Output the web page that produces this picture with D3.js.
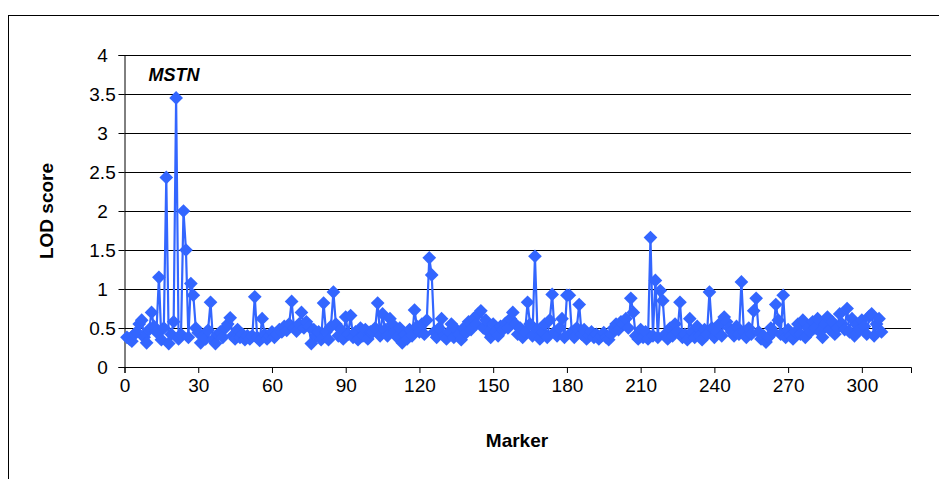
<!DOCTYPE html>
<html>
<head>
<meta charset="utf-8">
<script src="https://cdn.jsdelivr.net/npm/d3@7"></script>
<style>
  html, body { margin: 0; padding: 0; background: #fff; }
  svg { display: block; font-family: "Liberation Sans", Arial, sans-serif; }
</style>
</head>
<body>
<svg id="chart" width="939" height="479"></svg>
<script>
// LOD score for each marker along the scan (marker index = array position)
const lodScores = [
  0.38, 0.36, 0.33, 0.42, 0.45, 0.55, 0.60, 0.38, 0.31, 0.48,
  0.70, 0.52, 0.45, 1.15, 0.35, 0.50, 2.43, 0.30, 0.42, 0.58,
  3.45, 0.36, 0.42, 2.00, 1.50, 0.38, 1.07, 0.92, 0.50, 0.44,
  0.31, 0.40, 0.36, 0.47, 0.83, 0.35, 0.30, 0.42, 0.45, 0.38,
  0.50, 0.55, 0.63, 0.40, 0.36, 0.48, 0.38, 0.42, 0.35, 0.40,
  0.36, 0.40, 0.90, 0.38, 0.34, 0.62, 0.42, 0.36, 0.40, 0.45,
  0.38, 0.42, 0.48, 0.45, 0.52, 0.47, 0.55, 0.84, 0.50, 0.46,
  0.55, 0.70, 0.50, 0.58, 0.52, 0.30, 0.48, 0.40, 0.45, 0.35,
  0.82, 0.45, 0.35, 0.52, 0.96, 0.55, 0.40, 0.48, 0.36, 0.64,
  0.42, 0.66, 0.38, 0.45, 0.35, 0.50, 0.40, 0.48, 0.36, 0.45,
  0.45, 0.50, 0.82, 0.40, 0.68, 0.48, 0.40, 0.62, 0.55, 0.45,
  0.38, 0.50, 0.31, 0.42, 0.36, 0.48, 0.40, 0.73, 0.52, 0.45,
  0.55, 0.42, 0.60, 1.40, 1.18, 0.45, 0.38, 0.50, 0.62, 0.40,
  0.36, 0.45, 0.55, 0.38, 0.48, 0.42, 0.35, 0.50, 0.44, 0.58,
  0.48, 0.62, 0.55, 0.68, 0.72, 0.50, 0.60, 0.45, 0.38, 0.55,
  0.45, 0.40, 0.52, 0.48, 0.56, 0.50, 0.62, 0.70, 0.55, 0.42,
  0.50, 0.38, 0.45, 0.83, 0.55, 0.40, 1.42, 0.48, 0.36, 0.45,
  0.55, 0.38, 0.60, 0.93, 0.45, 0.40, 0.50, 0.62, 0.38, 0.92,
  0.92, 0.45, 0.38, 0.50, 0.80, 0.42, 0.48, 0.36, 0.40, 0.45,
  0.38, 0.42, 0.36, 0.40, 0.44, 0.38, 0.35, 0.42, 0.50, 0.55,
  0.48, 0.58, 0.55, 0.62, 0.50, 0.88, 0.70, 0.40, 0.36, 0.48,
  0.38, 0.45, 0.36, 1.66, 0.40, 1.11, 0.38, 0.98, 0.85, 0.42,
  0.36, 0.50, 0.40, 0.55, 0.45, 0.83, 0.38, 0.42, 0.35, 0.62,
  0.45, 0.38, 0.52, 0.40, 0.35, 0.48, 0.42, 0.96, 0.50, 0.38,
  0.45, 0.55, 0.40, 0.64, 0.58, 0.50, 0.45, 0.40, 0.52, 0.42,
  1.09, 0.45, 0.38, 0.50, 0.42, 0.72, 0.88, 0.45, 0.36, 0.40,
  0.32, 0.38, 0.50, 0.45, 0.80, 0.60, 0.42, 0.92, 0.38, 0.48,
  0.40, 0.36, 0.45, 0.55, 0.42, 0.60, 0.38, 0.50, 0.45, 0.58,
  0.50, 0.62, 0.45, 0.38, 0.55, 0.64, 0.48, 0.58, 0.42, 0.50,
  0.68, 0.55, 0.48, 0.75, 0.45, 0.62, 0.40, 0.55, 0.48, 0.60,
  0.52, 0.42, 0.65, 0.68, 0.40, 0.55, 0.62, 0.45
];

const xTicks = [0, 30, 60, 90, 120, 150, 180, 210, 240, 270, 300];
const yTicks = [0, 0.5, 1, 1.5, 2, 2.5, 3, 3.5, 4];
const xTitle = "Marker";
const yTitle = "LOD score";
const peakLabel = { text: "MSTN", marker: 20 };

const svg = d3.select("#chart");
const color = "#3366FF";

// outer chart frame
svg.append("rect")
  .attr("x", 8.5).attr("y", 15.5)
  .attr("width", 940).attr("height", 480)
  .attr("fill", "none").attr("stroke", "#000").attr("stroke-width", 1);

const plot = { left: 124.5, right: 911, top: 55, bottom: 367 };

const x = d3.scaleLinear().domain([0, 320]).range([plot.left, plot.right]);
const y = d3.scaleLinear().domain([0, 4]).range([plot.bottom, plot.top]);

// horizontal gridlines
svg.append("g")
  .selectAll("line")
  .data(yTicks.filter(d => d > 0))
  .join("line")
  .attr("x1", plot.left).attr("x2", plot.right)
  .attr("y1", d => y(d) + 0.5).attr("y2", d => y(d) + 0.5)
  .attr("stroke", "#000").attr("stroke-width", 1);

// y axis
const yAxis = svg.append("g")
  .attr("transform", `translate(${plot.left},0)`)
  .call(d3.axisLeft(y).tickValues(yTicks).tickFormat(d3.format("")).tickSize(6).tickPadding(6));
yAxis.select(".domain").attr("stroke", "#000");
yAxis.selectAll(".tick line").attr("stroke", "#000");
yAxis.selectAll(".tick text")
  .attr("x", -22)
  .attr("text-anchor", "middle")
  .attr("font-size", 19).attr("fill", "#000")
  .attr("font-family", "Liberation Sans, Arial, sans-serif");

// x axis
const xAxis = svg.append("g")
  .attr("transform", `translate(0,${plot.bottom})`)
  .call(d3.axisBottom(x).tickValues(xTicks).tickFormat(d3.format("d")).tickSize(6).tickPadding(6));
xAxis.select(".domain").attr("stroke", "#000");
xAxis.selectAll(".tick line").attr("stroke", "#000");
xAxis.selectAll(".tick text")
  .attr("font-size", 19).attr("fill", "#000")
  .attr("font-family", "Liberation Sans, Arial, sans-serif");

// LOD profile line
const line = d3.line()
  .x((d, i) => x(i + 1))
  .y(d => y(d));

svg.append("path")
  .datum(lodScores)
  .attr("d", line)
  .attr("fill", "none")
  .attr("stroke", color)
  .attr("stroke-width", 2.2)
  .attr("stroke-linejoin", "round");

// diamond markers
const diamond = d3.symbol().type(d3.symbolDiamond2).size(120);
svg.append("g")
  .selectAll("path")
  .data(lodScores)
  .join("path")
  .attr("transform", (d, i) => `translate(${x(i + 1)},${y(d)})`)
  .attr("d", diamond)
  .attr("fill", color);

// axis titles
svg.append("text")
  .attr("x", 517).attr("y", 447)
  .attr("text-anchor", "middle")
  .attr("font-size", 19).attr("font-weight", "bold")
  .text(xTitle);

svg.append("text")
  .attr("transform", `translate(53,${(plot.top + plot.bottom) / 2}) rotate(-90)`)
  .attr("text-anchor", "middle")
  .attr("font-size", 19).attr("font-weight", "bold")
  .text(yTitle);

// peak annotation
svg.append("text")
  .attr("x", x(peakLabel.marker + 1) - 2).attr("y", 81)
  .attr("text-anchor", "middle")
  .attr("font-size", 18).attr("font-weight", "bold").attr("font-style", "italic")
  .text(peakLabel.text);
</script>
</body>
</html>
